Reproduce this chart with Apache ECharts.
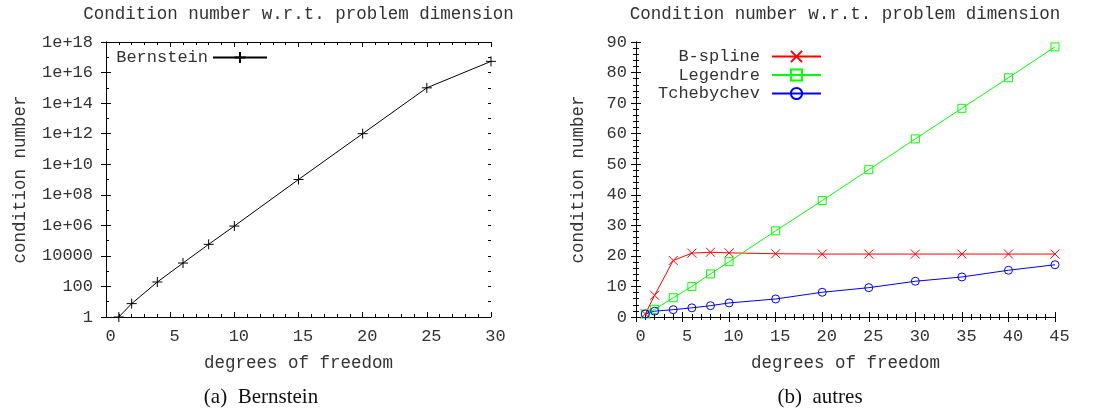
<!DOCTYPE html>
<html>
<head>
<meta charset="utf-8">
<script src="https://cdn.jsdelivr.net/npm/echarts@6/dist/echarts.min.js"></script>
<style>
html,body{margin:0;padding:0;background:#fff;}
#chart{width:1097px;height:413px;}
</style>
</head>
<body>
<div id="chart"></div>
<script>
// ---- data ----
const bernsteinDof = [1, 2, 4, 6, 8, 10, 15, 20, 25, 30];
const bernsteinCond = [1, 7.5, 195, 3400, 57000, 9e5, 1e9, 1e12, 1e15, 5.4e16];
const otherDof = [1, 2, 4, 6, 8, 10, 15, 20, 25, 30, 35, 40, 45];
const bsplineCond = [1, 7.1, 18.5, 20.9, 21.2, 21.0, 20.7, 20.6, 20.6, 20.6, 20.6, 20.6, 20.6];
const legendreCond = [1, 2.5, 6.3, 10.0, 14.1, 18.1, 28.2, 38.1, 48.2, 58.3, 68.3, 78.3, 88.4];
const tchebychevCond = [1, 1.9, 2.4, 3.0, 3.7, 4.6, 5.9, 8.1, 9.6, 11.7, 13.1, 15.3, 17.1];
const titleText = 'Condition number w.r.t. problem dimension';
const xName = 'degrees of freedom';
const yName = 'condition number';
const captionA = '(a)  Bernstein';
const captionB = '(b)  autres';

const zip = (xs, ys) => xs.map((x, i) => [x, ys[i]]);
const MONO = '"Liberation Mono", "DejaVu Sans Mono", monospace';
const TXT = '#333';

function logLabel(v) {
  const e = Math.round(Math.log10(v));
  if (e <= 4) return String(Math.round(Math.pow(10, e)));
  return '1e+' + (e < 10 ? '0' + e : e);
}

const tickInside = {show: true, inside: true, length: 5, lineStyle: {color: '#000'}};
const axisLine = {show: true, lineStyle: {color: '#000', width: 1}};

function xAx(grid, max, interval, top) {
  return {
    type: 'value', gridIndex: grid, min: 0, max: max, interval: interval,
    position: top ? 'top' : 'bottom',
    name: top ? '' : xName, nameLocation: 'middle', nameGap: 37,
    nameTextStyle: {fontFamily: MONO, fontSize: 17.5, color: TXT},
    axisLine: axisLine, axisTick: tickInside,
    minorTick: {show: true, splitNumber: 5, length: 3, lineStyle: {color: '#000'}},
    splitLine: {show: false},
    axisLabel: {show: !top, fontFamily: MONO, fontSize: 17, color: TXT, margin: 11, padding: [0, 0, 0, 9]}
  };
}

function logAx(pos, main) {
  return {
    type: 'log', logBase: 10, gridIndex: 0, min: 1, max: 1e18, interval: main ? 2 : 1,
    position: pos, offset: 0,
    name: (main && pos === 'left') ? yName : '', nameLocation: 'middle', nameGap: 77,
    nameTextStyle: {fontFamily: MONO, fontSize: 17.5, color: TXT},
    axisLine: main ? axisLine : {show: false},
    axisTick: {show: true, inside: true, length: main ? 5 : 3, lineStyle: {color: '#000'}},
    minorTick: {show: false},
    splitLine: {show: false},
    axisLabel: {show: main && pos === 'left', fontFamily: MONO, fontSize: 17, color: TXT, margin: 13, formatter: logLabel}
  };
}

const plusPath = 'path://M5,0L5,10M0,5L10,5';
const crossPath = 'path://M0,0L10,10M10,0L0,10';

const option = {
  animation: false,
  backgroundColor: '#fff',
  grid: [
    {left: 106, top: 42, width: 385, height: 275},
    {left: 636, top: 42, width: 419, height: 275}
  ],
  xAxis: [
    xAx(0, 30, 5, false),
    xAx(0, 30, 5, true),
    xAx(1, 45, 5, false),
    xAx(1, 45, 5, true)
  ],
  yAxis: [
    logAx('left', true),
    logAx('right', true),
    logAx('left', false),
    logAx('right', false),
    {
      type: 'value', gridIndex: 1, min: 0, max: 90, interval: 10,
      name: yName, nameLocation: 'middle', nameGap: 49,
      nameTextStyle: {fontFamily: MONO, fontSize: 17.5, color: TXT},
      axisLine: axisLine, axisTick: tickInside,
      minorTick: {show: true, splitNumber: 5, length: 3, lineStyle: {color: '#000'}},
      splitLine: {show: false},
      axisLabel: {fontFamily: MONO, fontSize: 17, color: TXT, margin: 9}
    },
    {
      type: 'value', gridIndex: 1, min: 0, max: 90, interval: 10, position: 'right',
      axisLine: axisLine, axisTick: tickInside,
      minorTick: {show: true, splitNumber: 5, length: 3, lineStyle: {color: '#000'}},
      splitLine: {show: false}, axisLabel: {show: false}
    }
  ],
  legend: [
    {data: ['Bernstein'], right: 829, top: 49, orient: 'vertical', align: 'right', padding: 0,
     itemWidth: 54, itemHeight: 14, textStyle: {fontFamily: MONO, fontSize: 17, color: TXT}},
    {data: ['B-spline'], right: 275, top: 48, orient: 'vertical', align: 'right', padding: 0,
     itemWidth: 49, itemHeight: 14, textStyle: {fontFamily: MONO, fontSize: 17, color: TXT, padding: [0, 7, 0, 0]}},
    {data: ['Legendre'], right: 275, top: 66.5, orient: 'vertical', align: 'right', padding: 0,
     itemWidth: 49, itemHeight: 14, textStyle: {fontFamily: MONO, fontSize: 17, color: TXT, padding: [0, 7, 0, 0]}},
    {data: ['Tchebychev'], right: 275, top: 85, orient: 'vertical', align: 'right', padding: 0,
     itemWidth: 49, itemHeight: 14, textStyle: {fontFamily: MONO, fontSize: 17, color: TXT, padding: [0, 7, 0, 0]}}
  ],
  graphic: [
    {type: 'text', x: 298.5, y: 14, style: {text: titleText, font: '17.5px ' + MONO, fill: TXT, align: 'center', verticalAlign: 'middle'}},
    {type: 'text', x: 845, y: 14, style: {text: titleText, font: '17.5px ' + MONO, fill: TXT, align: 'center', verticalAlign: 'middle'}},
    {type: 'text', x: 261, y: 397, style: {text: captionA, font: '21px "Liberation Serif", serif', fill: '#111', align: 'center', verticalAlign: 'middle'}},
    {type: 'text', x: 820, y: 397, style: {text: captionB, font: '21px "Liberation Serif", serif', fill: '#111', align: 'center', verticalAlign: 'middle'}}
  ],
  series: [
    {
      name: 'Bernstein', type: 'line', xAxisIndex: 0, yAxisIndex: 0,
      data: zip(bernsteinDof, bernsteinCond),
      symbol: plusPath, symbolSize: 10,
      itemStyle: {color: 'rgba(0,0,0,0)', borderColor: '#000', borderWidth: 1},
      lineStyle: {color: '#000', width: 1}
    },
    {
      name: 'B-spline', type: 'line', xAxisIndex: 2, yAxisIndex: 4,
      data: zip(otherDof, bsplineCond),
      symbol: crossPath, symbolSize: 9,
      itemStyle: {color: 'rgba(0,0,0,0)', borderColor: '#ff0000', borderWidth: 1},
      lineStyle: {color: '#ff0000', width: 1}
    },
    {
      name: 'Legendre', type: 'line', xAxisIndex: 2, yAxisIndex: 4,
      data: zip(otherDof, legendreCond),
      symbol: 'rect', symbolSize: 8,
      itemStyle: {color: 'rgba(0,0,0,0)', borderColor: '#00ff00', borderWidth: 1},
      lineStyle: {color: '#00ff00', width: 1}
    },
    {
      name: 'Tchebychev', type: 'line', xAxisIndex: 2, yAxisIndex: 4,
      data: zip(otherDof, tchebychevCond),
      symbol: 'circle', symbolSize: 8,
      itemStyle: {color: 'rgba(0,0,0,0)', borderColor: '#0000ff', borderWidth: 1},
      lineStyle: {color: '#0000ff', width: 1}
    }
  ]
};

const chart = echarts.init(document.getElementById('chart'), null, {renderer: 'canvas'});
chart.setOption(option);
</script>
</body>
</html>
